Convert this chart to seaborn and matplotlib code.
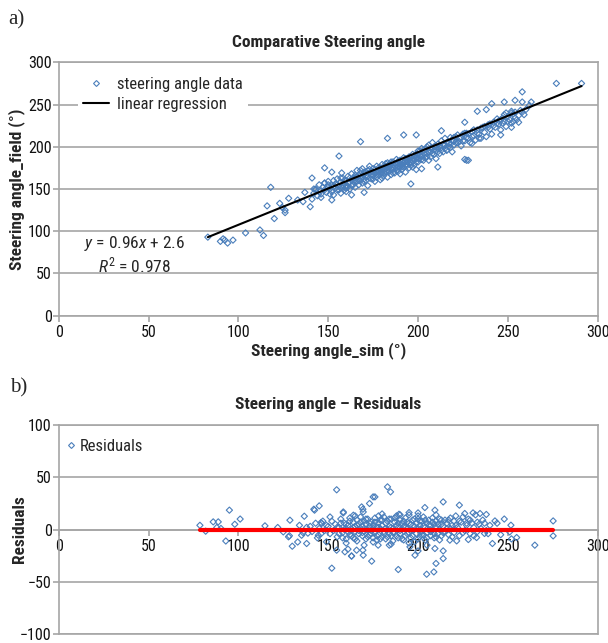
import matplotlib.pyplot as plt
import numpy as np
import pandas as pd
import seaborn as sns
from matplotlib.lines import Line2D

BLUE = '#4a7ebb'
GRID = '#a6a6a6'

# regression label
EQUATION = r'$\mathit{y}$ = 0.96$\mathit{x}$ + 2.6'
R2 = 0.978
# the drawn trend line
LINE_SLOPE = 0.86
LINE_INTERCEPT = 21.6

# (sim, field) points of panel a
tail_points = [(83, 93), (90, 88), (91.5, 91), (92.5, 89.5), (94, 86), (97, 89.5), (104, 98), (112, 101.5),
               (114, 95), (116, 130), (118, 152), (120, 115), (123, 133), (124.5, 128), (126, 125), (126, 122),
               (128, 139), (133, 137), (136, 135), (137, 146), (140, 129), (141, 138), (141, 163), (142, 150),
               (143, 149), (146, 140), (148, 157), (148, 175), (152, 170), (152, 137), (156, 189), (157.5, 169),
               (163, 143), (170, 146), (168, 206)]
core_points = [(142, 145), (143, 150), (144, 142), (145, 155), (146, 148), (146, 144), (147, 152), (148, 157),
               (148, 149), (149, 146), (150, 152), (150, 159), (151, 150), (152, 154), (152, 147), (153, 143),
               (154, 156), (154, 151), (155, 162), (155, 149), (156, 153), (157, 145), (157, 158), (158, 152),
               (158, 163), (159, 156), (159, 149), (160, 154), (160, 160), (160, 147),
               (161, 165), (161, 153), (162, 158), (162, 150), (163, 161), (163, 168), (164, 155), (164, 163),
               (165, 159), (165, 152), (166, 165), (166, 172), (167, 160), (167, 155), (168, 163), (168, 168),
               (169, 157), (169, 174), (170, 162), (170, 167), (171, 160), (171, 170), (172, 165), (172, 154),
               (173, 169), (173, 177), (174, 162), (174, 171), (175, 166), (175, 174), (176, 159), (176, 169),
               (177, 177), (177, 164), (178, 171), (178, 167), (179, 161), (179, 175), (180, 169), (180, 179),
               (180, 163),
               (181, 173), (181, 166), (182, 177), (182, 170), (183, 181), (183, 164), (184, 175), (184, 171),
               (185, 179), (185, 167), (186, 182), (186, 173), (187, 169), (187, 177), (188, 185), (188, 175),
               (189, 171), (189, 180), (190, 176), (190, 168), (190, 184), (191, 179), (191, 173), (192, 187),
               (192, 176), (193, 182), (193, 170), (194, 178), (194, 186), (195, 181), (195, 175), (196, 188),
               (196, 182), (197, 176), (197, 191), (198, 184), (198, 179), (199, 187), (199, 173), (200, 191),
               (200, 182),
               (201, 195), (201, 186), (202, 189), (202, 198), (203, 184), (203, 192), (204, 197), (204, 187),
               (205, 200), (205, 192), (206, 184), (206, 202), (207, 194), (207, 188), (208, 198), (208, 205),
               (209, 191), (209, 200), (210, 195), (210, 186), (211, 203), (211, 198), (212, 192), (213, 207),
               (213, 199), (214, 194), (215, 202), (215, 210), (216, 196), (217, 204), (218, 199), (218, 211),
               (219, 194), (220, 207), (220, 202),
               (221, 212), (222, 205), (223, 210), (224, 201), (225, 215), (226, 207), (227, 216), (228, 210),
               (229, 205), (230, 218), (231, 213), (232, 208), (233, 220), (234, 215), (235, 210), (236, 223),
               (237, 217), (238, 212), (239, 226), (240, 221), (241, 215), (242, 229), (243, 223), (244, 233),
               (245, 227), (246, 220), (247, 234), (248, 230), (249, 224), (250, 236), (251, 232), (252, 228),
               (253, 239), (254, 234), (256, 229), (258, 241)]
dense_points = [(150, 155), (151, 144), (153, 153), (153, 160), (155, 155), (156, 149), (157, 163), (158, 155),
                (159, 160), (160, 151), (161, 157), (162, 163), (163, 154), (164, 159), (165, 166), (165, 163),
                (166, 159), (167, 166), (168, 160), (168, 172), (169, 164), (170, 170), (170, 159), (171, 165),
                (172, 172), (173, 163), (173, 173), (174, 167), (175, 170), (175, 162), (176, 173), (177, 170),
                (177, 167), (178, 175), (179, 168), (179, 172), (180, 173), (180, 175), (181, 169), (182, 174),
                (182, 180), (183, 172), (183, 177), (184, 179), (185, 174), (185, 182), (186, 176), (186, 169),
                (187, 180), (188, 172), (188, 179), (189, 183), (189, 176), (190, 180), (191, 183), (191, 176),
                (192, 181), (193, 186), (193, 178), (194, 182), (195, 185), (195, 188), (196, 178), (197, 183),
                (197, 186), (198, 189), (199, 182), (199, 191), (200, 186), (200, 195), (201, 190), (202, 185),
                (203, 196), (204, 191), (205, 188), (206, 194), (207, 198), (208, 192), (209, 196), (210, 201),
                (211, 194), (212, 200), (213, 196), (214, 203), (215, 198), (216, 205), (217, 200), (218, 203),
                (219, 208), (220, 211), (221, 205), (222, 214), (223, 206), (224, 211), (225, 207), (226, 216),
                (227, 211), (228, 215), (230, 212), (231, 220), (233, 216), (235, 222), (237, 224), (240, 227),
                (242, 225), (244, 228), (246, 232), (248, 238), (250, 230), (252, 240), (254, 241), (256, 237),
                (257, 243), (260, 244), (262, 249), (245, 231), (239, 223)]
upper_points = [(277, 275), (291, 275), (258, 265), (241, 251), (248, 253), (254, 255), (258, 253), (263, 253),
                (233, 242), (238, 244), (226, 229), (249, 240), (252, 242), (255, 232), (253, 230), (259, 238),
                (252, 223), (246, 214), (247, 228), (234, 210), (230, 204), (226, 185), (228, 184), (213, 219),
                (199, 214), (192, 214), (183, 210), (211, 176), (196, 156), (216, 196), (202, 174), (227, 184)]

# (fitted, residual) points of panel b
res_side_points = [(78.6, 4), (81.8, -1.6), (86, 7.3), (88.8, 7.3), (88, 1.9), (90.3, 1), (95, 18.5),
                   (93, -11), (98, 5), (101, 10), (114.8, 3.5), (121.9, 1.9), (125, -2.3), (128.7, 8.9),
                   (127.9, -7), (128.4, -6), (130, -16), (133, -12), (136.7, 12.7), (135.2, -5.5), (138, -13.4),
                   (138.7, -3.5), (142, 19.4), (145, 22.6), (142.4, 18.5), (146, 6.7), (151, 12), (154.7, 38),
                   (158.4, 16.8), (152, -37), (144.5, -5.5), (149, -11.8), (154.7, -19.8), (159.3, -21.4),
                   (163, -25.3), (165.8, -19.8), (169.5, -24.6), (174.2, -30.3), (168.6, 21.6), (175, 31.2),
                   (173, 24.9), (169.5, 16.8), (164, 13.7), (183, 40.8), (184.7, 36), (176, 31.2), (169.3, 19.4),
                   (189, -38.3), (204.8, -42.8), (208.8, -40.6), (210, -32.5), (214, -27.8), (214, -20.5),
                   (209.4, -18.2), (163, -25.5), (214, 26.4), (223, 23.3), (203.8, 21), (200, 15.9),
                   (209.4, 18.5), (226, 15.3), (230.6, 15.9), (234.5, 15.3), (238, 14.4), (242.8, 8.2),
                   (251.7, 4.1), (275.2, 8.2), (275.2, -6.1), (265, -15), (254.9, -7.7), (251, -2.3),
                   (241.4, -13.4), (237, -3.8), (232.6, -7.7), (228, -9.6), (221.5, -10.9), (217.7, -10.2),
                   (189.4, 14.6), (195, 16.2), (180, 14.9), (158.4, 15.9), (146.3, 5.7), (161, -18.8),
                   (169.3, -19.8), (177.8, -15), (184, -15), (195.5, -16.6), (200, -20.5), (198.3, -24.6),
                   (140, 3), (141, -2), (143, 6), (144, -8), (145, 1), (146, -4), (147, 8), (148, -1), (149, 4),
                   (134, 4), (136, -3), (138, 2)]
res_core_points = [(150, 3), (151, -4), (152, 8), (153, -1), (154, 5), (155, -7), (156, 2), (157, 10), (158, -3),
                   (159, 6), (160, -9), (160, 1), (161, 4), (162, -5), (162, 11), (163, 0), (164, 7), (164, -8),
                   (165, 3), (165, -2), (166, 9), (166, -11), (167, 5), (167, -4), (168, 1), (168, 12), (169, -6),
                   (169, 3), (170, 8), (170, -2), (171, -9), (171, 5), (172, 0), (172, 10), (173, -5), (173, 3),
                   (174, 7), (174, -1), (175, -8), (175, 4), (176, 11), (176, -3), (177, 2), (177, -10), (178, 6),
                   (178, -5), (179, 1), (179, 9), (180, -7), (180, 4), (181, 12), (181, -2), (182, 6), (182, -9),
                   (183, 0), (183, 8), (184, -4), (184, 3), (185, 10), (185, -6), (186, 1), (186, -11), (187, 7),
                   (187, -3), (188, 4), (188, 13), (189, -8), (189, 2), (190, 9), (190, -4), (191, 0), (191, 6),
                   (192, -10), (192, 3), (193, 11), (193, -6), (194, 1), (194, 7), (195, -3), (195, 14), (196, 5),
                   (196, -8), (197, -1), (197, 9), (198, 3), (198, -12), (199, 6), (199, -4), (200, 1), (200, 10),
                   (201, -7), (201, 4), (202, -2), (202, 8), (203, 12), (203, -5), (204, 2), (204, -10), (205, 6),
                   (205, -3), (206, 9), (206, 0), (207, -6), (207, 4), (208, 11), (208, -1), (209, 5), (209, -8),
                   (210, 2), (210, 8), (211, -4), (212, 10), (212, 0), (213, -6), (213, 5), (214, 3), (215, -2),
                   (215, 9), (216, 6), (217, -5), (218, 1), (218, 11), (219, 4), (220, -3), (220, 8), (221, 13),
                   (222, 2), (223, -6), (224, 7), (225, 12), (226, -1), (227, 4), (228, 10), (229, -4), (230, 6),
                   (231, 2), (232, 14), (233, -2), (234, 5), (236, 9), (238, -1), (240, 4), (244, 6), (246, -5),
                   (248, 10), (252, -9)]
res_dense_points = [(155, 2), (156, -4), (157, 6), (158, -8), (159, 0), (160, 5), (161, -2), (162, 8), (163, -6),
                    (164, 2), (165, -9), (166, 4), (167, -1), (168, 7), (169, -3), (170, 1), (171, 10), (172, -7),
                    (173, 6), (174, -4), (175, 1), (176, 7), (177, -6), (178, 2), (179, -9), (180, 9), (181, -4),
                    (182, 1), (183, -7), (184, 10), (185, 2), (186, -3), (187, 11), (188, -6), (189, 6), (190, -1),
                    (191, -9), (192, 8), (193, 2), (194, -4), (195, 6), (196, -1), (197, -6), (198, 10), (199, 1),
                    (200, -9), (201, 8), (202, -5), (203, 3), (204, 9), (205, -8), (206, 4), (207, -2), (208, 7),
                    (209, -4), (210, -7), (211, 5), (212, -10), (213, 9), (214, -3), (216, 1), (217, 9), (219, -7),
                    (221, 4), (223, 8), (225, -3), (227, 6), (229, 9), (231, -6), (233, 7), (235, 1), (237, 6),
                    (239, -4), (175, -12), (185, -14), (195, -13), (205, -15), (178, 13), (190, 14), (200, 13),
                    (210, 14), (165, 13), (160, -13), (170, -15)]

ticks_a = [0, 50, 100, 150, 200, 250, 300]
ticks_res = [-100, -50, 0, 50, 100]

df_a = pd.DataFrame(tail_points + core_points + dense_points + upper_points, columns=['sim', 'field'])
df_b = pd.DataFrame(res_side_points + res_core_points + res_dense_points, columns=['fitted', 'residual'])

sns.set_style("white")
plt.rcParams['font.family'] = ['Roboto Condensed', 'DejaVu Sans']
plt.rcParams['mathtext.fontset'] = 'custom'
plt.rcParams['mathtext.rm'] = 'Roboto Condensed'
plt.rcParams['mathtext.it'] = 'Roboto Condensed:italic'
FS = 11.5
FS_TEXT = 12
FS_BOLD = 12.5

fig = plt.figure(figsize=(6.08, 6.43), dpi=100)
ax1 = fig.add_axes([58.7 / 608, 1 - 315.7 / 643, 539 / 608, 253.4 / 643])
ax2 = fig.add_axes([58.7 / 608, 1 - 634 / 643, 539 / 608, 209 / 643])


def style_axes(ax, yticks):
    ax.set_xlim(0, 300)
    ax.set_ylim(yticks[0], yticks[-1])
    ax.set_xticks(ticks_a)
    ax.set_yticks(yticks)
    ax.yaxis.grid(True, color=GRID, linewidth=1.2)
    ax.set_axisbelow(True)
    for sp in ax.spines.values():
        sp.set_color(GRID)
        sp.set_linewidth(1.2)
    ax.tick_params(axis='both', which='major', labelsize=FS, length=4, width=1.2, color=GRID,
                   left=True, bottom=True, pad=1, labelcolor='#111111')
    ax.tick_params(axis='x', pad=3)


def diamond_handle():
    return Line2D([], [], marker='D', linestyle='none', markersize=3, markerfacecolor='none',
                  markeredgecolor=BLUE, markeredgewidth=0.8)


# panel a
sns.scatterplot(data=df_a, x='sim', y='field', marker='D', s=10, facecolor='none', edgecolor=BLUE,
                linewidth=0.8, legend=False, ax=ax1, zorder=3)
fit_x = np.array([df_a['sim'].min(), df_a['sim'].max()])
sns.lineplot(x=fit_x, y=LINE_SLOPE * fit_x + LINE_INTERCEPT, color='black', linewidth=1.5, ax=ax1, zorder=4)
style_axes(ax1, ticks_a)
ax1.set_xlabel('Steering angle_sim (°)', fontsize=FS_BOLD, fontweight='bold', labelpad=1)
ax1.set_ylabel('Steering angle_field (°)', fontsize=FS_BOLD, fontweight='bold')
ax1.yaxis.set_label_coords(-0.062, 0.5)
handles = [diamond_handle(), Line2D([], [], color='black', linewidth=1.5)]
ax1.legend(handles, ['steering angle data', 'linear regression'], loc='upper left',
           bbox_to_anchor=(0.02, 0.995), fontsize=FS_TEXT, frameon=True, facecolor='white',
           edgecolor='none', fancybox=False, framealpha=1, borderpad=0.3, labelspacing=0.32,
           handlelength=1.6, handletextpad=0.45)
ax1.text(42, 86, EQUATION, fontsize=12.5, ha='center', va='center')
ax1.text(42, 60, r'$\mathit{R}^2$ = %.3f' % R2, fontsize=12.5, ha='center', va='center')

# panel b
sns.scatterplot(data=df_b, x='fitted', y='residual', marker='D', s=10, facecolor='none', edgecolor=BLUE,
                linewidth=0.8, legend=False, ax=ax2, zorder=3)
zero_x = np.array([df_b['fitted'].min(), df_b['fitted'].max()])
sns.lineplot(x=zero_x, y=np.zeros(2), color='red', linewidth=3, ax=ax2, zorder=4)
style_axes(ax2, ticks_res)
ax2.spines['bottom'].set_position(('data', 0))
ax2.axhline(-100, color=GRID, linewidth=1.2, clip_on=False, zorder=1)
ax2.set_xlabel('')
ax2.set_ylabel('Residuals', fontsize=FS_BOLD, fontweight='bold')
ax2.yaxis.set_label_coords(-0.058, 0.5)
ax2.legend([diamond_handle()], ['Residuals'], loc='upper left', bbox_to_anchor=(-0.012, 0.99),
           fontsize=FS_TEXT, frameon=False, borderpad=0.2, handlelength=0.8, handletextpad=0.15)

fig.text(328 / 608, 1 - 42 / 643, 'Comparative Steering angle', fontsize=FS_BOLD, fontweight='bold',
         ha='center', va='center')
fig.text(328 / 608, 1 - 405 / 643, 'Steering angle – Residuals', fontsize=FS_BOLD, fontweight='bold',
         ha='center', va='center')
fig.text(8 / 608, 1 - 20 / 643, 'a)', fontsize=15, family='Liberation Serif', ha='left', va='center')
fig.text(10 / 608, 1 - 388 / 643, 'b)', fontsize=15, family='Liberation Serif', ha='left', va='center')

fig.savefig('out.png', dpi=100)
